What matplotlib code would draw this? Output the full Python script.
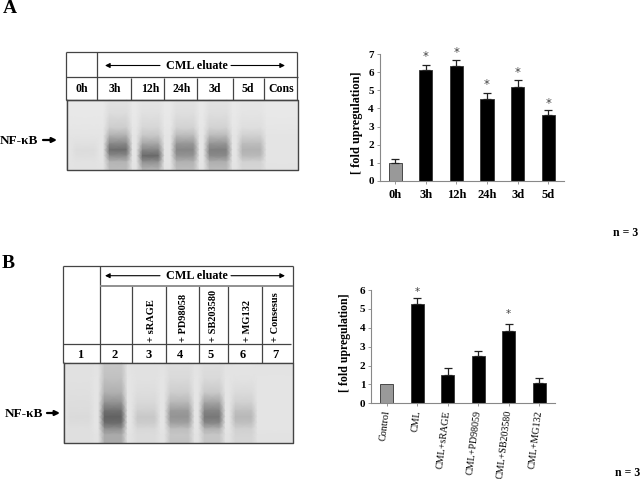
import matplotlib
matplotlib.use('Agg')
import matplotlib.pyplot as plt
import numpy as np

plt.rcParams['font.family'] = ['Liberation Serif', 'DejaVu Serif']

# panel A bars
labels_a = ['0h', '3h', '12h', '24h', '3d', '5d']
values_a = [1.0, 6.15, 6.35, 4.55, 5.2, 3.65]
errors_a = [0.2, 0.28, 0.35, 0.3, 0.35, 0.27]
stars_a = [None, 7.0, 7.2, 5.4, 6.1, 4.4]

# panel B bars
labels_b = ['Control', 'CML', 'CML+sRAGE', 'CML+PD98059', 'CML+SB203580', 'CML+MG132']
values_b = [1.0, 5.25, 1.5, 2.5, 3.85, 1.1]
errors_b = [0, 0.35, 0.35, 0.25, 0.35, 0.25]
stars_b = [None, 6.0, None, None, 4.85, None]

# gel header labels
lanes_a = ['0h', '3h', '12h', '24h', '3d', '5d', 'Cons']
lanes_a_x = [82, 115, 150, 182, 215, 248, 281]
lanes_b = ['1', '2', '3', '4', '5', '6', '7']
lanes_b_x = [80, 115, 149, 180, 211, 243, 275]
treat_b = ['+ sRAGE', '+ PD98058', '+ SB203580', '+ MG132', '+ Consesus']
treat_b_x = [152, 183, 213, 247, 276]

# gel A grey levels, top to bottom, read per lane
gel_a_y = [0, 14, 28, 36, 44, 50, 56, 62, 70]
gap_a = [232, 232, 230, 228, 228, 228, 228, 228, 226]
gel_a_lanes = [
    (7, 30, [232, 232, 230, 228, 224, 220, 222, 226, 226]),
    (40, 63, [226, 220, 205, 175, 135, 110, 140, 180, 188]),
    (73, 95, [228, 224, 214, 198, 165, 135, 105, 145, 182]),
    (107, 130, [226, 222, 210, 185, 150, 135, 148, 178, 190]),
    (140, 163, [226, 222, 210, 185, 148, 128, 138, 175, 188]),
    (173, 197, [230, 228, 222, 208, 188, 178, 186, 210, 214]),
]

# gel B grey levels
gel_b_y = [0, 16, 30, 40, 48, 54, 60, 66, 72, 80]
gap_b = [226, 228, 228, 228, 228, 228, 228, 228, 226, 226]
gel_b_lanes = [
    (4, 28, [225, 225, 223, 221, 220, 218, 220, 223, 223, 223]),
    (38, 61, [200, 192, 175, 145, 112, 98, 108, 145, 170, 170]),
    (71, 94, [225, 225, 221, 216, 208, 200, 204, 216, 219, 219]),
    (104, 128, [222, 217, 205, 182, 155, 148, 160, 190, 198, 194]),
    (138, 159, [222, 217, 200, 162, 132, 120, 135, 178, 198, 198]),
    (169, 191, [228, 226, 218, 208, 192, 184, 192, 208, 212, 214]),
]

fig = plt.figure(figsize=(6.4, 4.79), dpi=100)
W, H = 640.0, 479.0

# full figure overlay in pixel coords
bg = fig.add_axes([0, 0, 1, 1])
bg.set_xlim(0, W)
bg.set_ylim(H, 0)
bg.axis('off')


def pixel_axes(x0, x1, y_top, y_bottom):
    return fig.add_axes([x0 / W, 1 - y_bottom / H, (x1 - x0) / W, (y_bottom - y_top) / H])


def draw_gel(x0, y0, width, y_nodes, gap, lanes):
    xs = [0]
    cols = [gap]
    for left, right, prof in lanes:
        xs += [left - 3, left + 3, right - 3, right + 3]
        cols += [gap, prof, prof, gap]
    xs.append(width)
    cols.append(gap)
    grey = np.array(cols, dtype=float).T
    X, Y = np.meshgrid(np.array(xs) + x0, np.array(y_nodes) + y0)
    bg.pcolormesh(X, Y, grey, shading='gouraud', cmap='gray', vmin=0, vmax=255)
    bg.plot([x0, x0 + width, x0 + width, x0, x0],
            [y0, y0, y0 + y_nodes[-1], y0 + y_nodes[-1], y0], color='#444444', lw=1)


def lines(segments, color='#444444', lw=0.9):
    for x0, y0, x1, y1 in segments:
        bg.plot([x0, x1], [y0, y1], color=color, lw=lw, solid_capstyle='butt')


def eluate_header(y):
    bg.text(197, y, 'CML eluate', ha='center', va='center', fontsize=8.7, fontweight='bold')
    for start, end in [(160, 105), (231, 285)]:
        bg.annotate('', xy=(end, y), xytext=(start, y),
                    arrowprops=dict(arrowstyle='-|>', color='black', lw=0.8, mutation_scale=7,
                                    shrinkA=0, shrinkB=0))


def nfkb(x, y, a0, a1):
    bg.text(x, y, 'NF-\u03baB', ha='left', va='center', fontsize=9.5, fontweight='bold')
    bg.annotate('', xy=(a1, y - 1), xytext=(a0, y - 1),
                arrowprops=dict(arrowstyle='-|>', color='black', lw=1.6, mutation_scale=7,
                                shrinkA=0, shrinkB=0))


def bar_panel(ax, labels, values, errors, stars, ymax, star_size):
    x = np.arange(len(values))
    colors = ['#999999'] + ['black'] * (len(values) - 1)
    ax.bar(x, values, width=0.43, color=colors, edgecolor='#333333', linewidth=0.6)
    for xi, v, e in zip(x, values, errors):
        if e > 0:
            ax.errorbar(xi, v, yerr=[[0], [e]], color='#222222', capsize=3, lw=0.9, capthick=0.9)
    for xi, s in zip(x, stars):
        if s is not None:
            ax.text(xi, s - 0.1, '*', ha='center', va='center', fontsize=star_size, color='#444444',
                    family='DejaVu Sans', clip_on=False)
    ax.set_xlim(-0.52, len(values) - 0.48)
    ax.set_ylim(0, ymax)
    ax.set_yticks(range(ymax + 1))
    ax.set_xticks(x)
    ax.set_xticklabels(labels)
    for t in ax.get_yticklabels():
        t.set_fontsize(8)
        t.set_fontweight('bold')
    for side in ['top', 'right']:
        ax.spines[side].set_visible(False)
    for side in ['left', 'bottom']:
        ax.spines[side].set_color('#888888')
        ax.spines[side].set_linewidth(0.8)
    ax.tick_params(axis='both', length=2, width=0.6, color='#888888', pad=2)
    ax.patch.set_alpha(0)


# panel A
bg.text(3, 8, 'A', ha='left', va='center', fontsize=14, fontweight='bold')
draw_gel(66.5, 100, 231.5, gel_a_y, gap_a, gel_a_lanes)
lines([(66, 52, 297, 52), (66, 77, 298, 77), (66, 100, 298, 100), (66, 52, 66, 100),
       (297, 52, 297, 100), (96.5, 52, 96.5, 100), (131, 78, 131, 100), (164, 78, 164, 100),
       (197, 78, 197, 100), (233, 78, 233, 100), (264, 78, 264, 100)])
eluate_header(65.5)
for name, xp in zip(lanes_a, lanes_a_x):
    bg.text(xp, 89, name, ha='center', va='center', fontsize=8.5, fontweight='bold')
nfkb(0, 141, 43, 57)

ax_a = pixel_axes(379.5, 564, 54.3, 180.7)
bar_panel(ax_a, labels_a, values_a, errors_a, stars_a, 7, 8.5)
for t in ax_a.get_xticklabels():
    t.set_fontsize(9)
    t.set_fontweight('bold')
ax_a.tick_params(axis='x', pad=4)
ax_a.set_ylabel('[ fold upregulation]', fontsize=8.8, fontweight='bold', labelpad=4, y=0.46)
bg.text(613, 233, 'n = 3', ha='left', va='center', fontsize=8.5, fontweight='bold')

# panel B
bg.text(2, 263, 'B', ha='left', va='center', fontsize=14, fontweight='bold')
draw_gel(63.5, 363, 229, gel_b_y, gap_b, gel_b_lanes)
lines([(63, 266, 293, 266), (63, 266, 63, 363), (293, 266, 293, 363), (99.5, 266, 99.5, 363),
       (63, 343.7, 291, 343.7), (132, 286, 132, 363), (166, 286, 166, 363), (199, 286, 199, 363),
       (228, 286, 228, 363), (262, 286, 262, 363)])
lines([(99.5, 285.7, 293, 285.7)], color='#888888', lw=1.3)
eluate_header(275.7)
for name, xp in zip(lanes_b, lanes_b_x):
    bg.text(xp, 355, name, ha='center', va='center', fontsize=9, fontweight='bold')
for name, xp in zip(treat_b, treat_b_x):
    bg.text(xp, 342, name, ha='center', va='bottom', rotation=90, fontsize=7.5, fontweight='bold')
nfkb(4.5, 414, 47, 60)

ax_b = pixel_axes(371, 555, 290, 403.3)
bar_panel(ax_b, labels_b, values_b, errors_b, stars_b, 6, 7.5)
for t in ax_b.get_xticklabels():
    t.set_fontsize(7.2)
    t.set_rotation(83)
    t.set_ha('right')
    t.set_rotation_mode('anchor')
    t.set_va('center')
ax_b.tick_params(axis='x', pad=3)
ax_b.set_ylabel('[ fold upregulation]', fontsize=8.5, fontweight='bold', labelpad=6, y=0.537)
bg.text(615, 473, 'n = 3', ha='left', va='center', fontsize=8.5, fontweight='bold')

fig.savefig('out.png', dpi=100)
